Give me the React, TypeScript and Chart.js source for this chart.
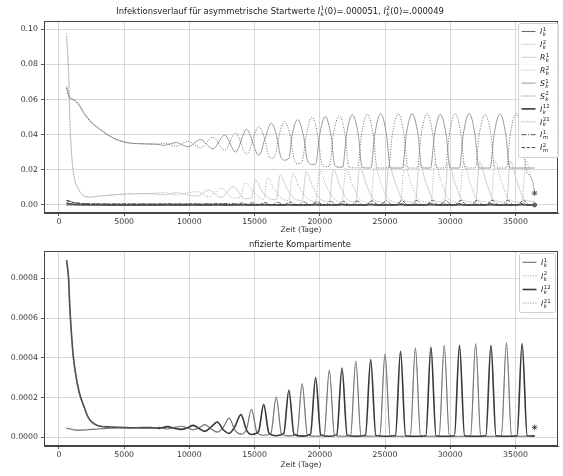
import { useEffect, useRef } from 'react';
import { Chart, registerables } from 'chart.js';

Chart.register(...registerables);

type P = [number, number];

const FONT = '"DejaVu Sans", sans-serif';

// ---------- ticks ----------
const xTicks = [0, 5000, 10000, 15000, 20000, 25000, 30000, 35000];
const yTicksTop = [0, 0.02, 0.04, 0.06, 0.08, 0.1];
const yTicksBottom = [0, 0.0002, 0.0004, 0.0006, 0.0008];

// ---------- series (time in days, value) ----------
const Ik12: P[] = [[585,892e-6],[740,800e-6],[840,650e-6],[970,514e-6],[1120,397e-6],[1300,312e-6],[1550,228e-6],[1930,153e-6],[2300,94e-6],[2950,60e-6],[3950,52e-6],[5000,49e-6],[6000,48e-6],[7000,49e-6],[7700,45e-6],[8300,54e-6],[8850,45e-6],[9400,40e-6],[9850,48e-6],[10300,60e-6],[10750,44e-6],[11200,30e-6],[11670,52e-6],[12140,77e-6],[12600,38e-6],[13050,20e-6],[13500,55e-6],[13950,114e-6],[14400,35e-6],[14760,14e-6],[15300,28e-6],[15700,166e-6],[16100,22e-6],[16660,8e-6],[17230,18e-6],[17630,237e-6],[18030,14e-6],[18650,6e-6],[19280,15e-6],[19680,301e-6],[20080,12e-6],[20730,5e-6],[21300,12e-6],[21700,349e-6],[22100,10e-6],[22760,5e-6],[23500,10e-6],[23900,391e-6],[24300,9e-6],[25000,5e-6],[25800,9e-6],[26190,433e-6],[26580,8e-6],[27330,5e-6],[28130,8e-6],[28520,455e-6],[28910,8e-6],[29540,5e-6],[30320,8e-6],[30710,463e-6],[31100,8e-6],[31950,5e-6],[32730,8e-6],[33120,463e-6],[33510,8e-6],[34310,5e-6],[35120,8e-6],[35510,472e-6],[35900,8e-6],[36470,6e-6]];

const Ik1: P[] = [[585,44e-6],[800,43e-6],[1300,36e-6],[2000,37e-6],[3000,42e-6],[4000,46e-6],[5000,47e-6],[6000,48e-6],[7000,46e-6],[7700,50e-6],[8300,42e-6],[8850,50e-6],[9400,56e-6],[9850,48e-6],[10300,38e-6],[10750,48e-6],[11200,64e-6],[11670,42e-6],[12140,26e-6],[12600,50e-6],[13050,97e-6],[13500,36e-6],[13950,16e-6],[14380,40e-6],[14760,141e-6],[15200,22e-6],[15700,10e-6],[16250,20e-6],[16660,203e-6],[17070,16e-6],[17630,7e-6],[18250,14e-6],[18650,270e-6],[19050,12e-6],[19680,5e-6],[20330,12e-6],[20730,338e-6],[21130,10e-6],[21700,5e-6],[22360,10e-6],[22760,384e-6],[23160,9e-6],[23900,5e-6],[24600,9e-6],[25000,420e-6],[25400,8e-6],[26190,5e-6],[26940,8e-6],[27330,450e-6],[27720,8e-6],[28520,5e-6],[29150,8e-6],[29540,463e-6],[29930,8e-6],[30710,5e-6],[31560,8e-6],[31950,472e-6],[32340,8e-6],[33120,5e-6],[33920,8e-6],[34310,477e-6],[34700,8e-6],[35510,5e-6],[36470,10e-6]];

const Ik2: P[] = [[585,49e-6],[800,46e-6],[1300,38e-6],[2000,38e-6],[3000,43e-6],[4000,46e-6],[5000,47e-6],[6000,47e-6],[7000,47e-6],[8300,52e-6],[9400,42e-6],[10300,57e-6],[11200,32e-6],[12140,74e-6],[12600,38e-6],[13050,20e-6],[13500,52e-6],[13950,110e-6],[14400,33e-6],[14760,14e-6],[15300,27e-6],[15700,160e-6],[16100,20e-6],[16660,8e-6],[17230,17e-6],[17630,230e-6],[18030,13e-6],[18650,6e-6],[19280,14e-6],[19680,295e-6],[20080,11e-6],[20730,5e-6],[21300,11e-6],[21700,343e-6],[22100,10e-6],[22760,5e-6],[23500,10e-6],[23900,385e-6],[24300,9e-6],[25000,5e-6],[25800,9e-6],[26190,428e-6],[26580,8e-6],[27330,5e-6],[28130,8e-6],[28520,450e-6],[28910,8e-6],[29540,5e-6],[30320,8e-6],[30710,458e-6],[31100,8e-6],[31950,5e-6],[32730,8e-6],[33120,458e-6],[33510,8e-6],[34310,5e-6],[35120,8e-6],[35510,467e-6],[35900,8e-6],[36470,6e-6]];

const Ik21: P[] = [[585,885e-6],[740,795e-6],[840,645e-6],[970,510e-6],[1120,393e-6],[1300,308e-6],[1550,225e-6],[1930,150e-6],[2300,92e-6],[2950,59e-6],[3950,51e-6],[5000,48e-6],[6000,48e-6],[7000,47e-6],[8300,43e-6],[9400,54e-6],[10300,39e-6],[11200,62e-6],[12140,27e-6],[12600,48e-6],[13050,94e-6],[13500,35e-6],[13950,16e-6],[14380,38e-6],[14760,137e-6],[15200,21e-6],[15700,10e-6],[16250,19e-6],[16660,198e-6],[17070,15e-6],[17630,7e-6],[18250,13e-6],[18650,265e-6],[19050,12e-6],[19680,5e-6],[20330,12e-6],[20730,333e-6],[21130,10e-6],[21700,5e-6],[22360,10e-6],[22760,379e-6],[23160,9e-6],[23900,5e-6],[24600,9e-6],[25000,415e-6],[25400,8e-6],[26190,5e-6],[26940,8e-6],[27330,445e-6],[27720,8e-6],[28520,5e-6],[29150,8e-6],[29540,458e-6],[29930,8e-6],[30710,5e-6],[31560,8e-6],[31950,467e-6],[32340,8e-6],[33120,5e-6],[33920,8e-6],[34310,472e-6],[34700,8e-6],[35510,5e-6],[36470,10e-6]];

const Sk1: P[] = [[585,0.0674],[785,0.0617],[1166,0.0599],[1550,0.0570],[1930,0.0523],[2440,0.0475],[3200,0.0428],[4200,0.0380],[5240,0.0355],[6500,0.0348],[7500,0.0346],[8000,0.0339],[9000,0.0355],[9900,0.0331],[10850,0.0372],[11800,0.0319],[12700,0.0398],[13550,0.0301],[14380,0.0430],[15340,0.0282],[15830,0.0385],[16280,0.0466],[16730,0.0380],[17000,0.0275],[17300,0.0255],[17650,0.0270],[17860,0.0390],[18310,0.0485],[18760,0.0390],[19060,0.0250],[19410,0.0230],[19700,0.0235],[19970,0.0390],[20420,0.0503],[20870,0.0390],[21150,0.0225],[21490,0.0215],[21750,0.0215],[22050,0.0400],[22500,0.0513],[22950,0.0400],[23250,0.0212],[23915,0.0210],[24215,0.0400],[24665,0.0519],[25115,0.0400],[25415,0.0210],[26330,0.0210],[26630,0.0400],[27080,0.0520],[27530,0.0400],[27830,0.0210],[28490,0.0210],[28790,0.0398],[29240,0.0515],[29690,0.0398],[29990,0.0210],[30700,0.0210],[31000,0.0400],[31450,0.0520],[31900,0.0400],[32200,0.0210],[33060,0.0210],[33360,0.0400],[33810,0.0518],[34260,0.0400],[34560,0.0210],[35800,0.0210],[36470,0.0210]];

const Sk2: P[] = [[585,0.0665],[785,0.0612],[1166,0.0596],[1550,0.0566],[1930,0.0520],[2440,0.0472],[3200,0.0426],[4200,0.0379],[5240,0.0354],[6500,0.0347],[7500,0.0345],[8000,0.0352],[9000,0.0335],[9900,0.0362],[10850,0.0325],[11800,0.0385],[12700,0.0310],[13550,0.0410],[14380,0.0290],[15340,0.0446],[15790,0.0370],[16050,0.0285],[16280,0.0265],[16600,0.0285],[16850,0.0385],[17300,0.0475],[17750,0.0385],[18030,0.0260],[18310,0.0235],[18650,0.0250],[18960,0.0395],[19410,0.0500],[19860,0.0390],[20150,0.0235],[20420,0.0218],[20740,0.0220],[21040,0.0398],[21490,0.0507],[21940,0.0398],[22240,0.0213],[22895,0.0211],[23195,0.0400],[23645,0.0517],[24095,0.0400],[24395,0.0210],[25260,0.0210],[25560,0.0400],[26010,0.0520],[26460,0.0400],[26760,0.0210],[27470,0.0210],[27770,0.0400],[28220,0.0520],[28670,0.0400],[28970,0.0210],[29630,0.0210],[29930,0.0400],[30380,0.0520],[30830,0.0400],[31130,0.0210],[31920,0.0210],[32220,0.0400],[32670,0.0515],[33120,0.0400],[33420,0.0210],[34300,0.0210],[34600,0.0400],[35050,0.0520],[35500,0.0400],[35800,0.0210],[36300,0.0140],[36470,0.0067]];

const Rk1: P[] = [[585,0.0960],[740,0.0760],[840,0.0480],[970,0.0292],[1166,0.0160],[1550,0.0084],[1930,0.0051],[2440,0.0045],[3200,0.0051],[5240,0.0062],[7000,0.0064],[8000,0.0058],[9000,0.0070],[10000,0.0055],[10600,0.0050],[11500,0.0085],[12440,0.0042],[13350,0.0105],[14250,0.0035],[14760,0.0040],[15060,0.0143],[15560,0.0080],[16160,0.0035],[16660,0.0030],[16960,0.0171],[17460,0.0095],[18060,0.0035],[18650,0.0025],[18950,0.0190],[19450,0.0105],[20050,0.0033],[20730,0.0020],[21030,0.0203],[21530,0.0112],[22130,0.0030],[22760,0.0017],[23060,0.0215],[23560,0.0118],[24160,0.0030],[25000,0.0015],[25300,0.0225],[25800,0.0123],[26400,0.0028],[27330,0.0015],[27630,0.0235],[28130,0.0128],[28730,0.0028],[29540,0.0015],[29840,0.0240],[30340,0.0130],[30940,0.0028],[31950,0.0015],[32250,0.0245],[32750,0.0133],[33350,0.0028],[34310,0.0015],[34610,0.0250],[35110,0.0136],[35710,0.0028],[36470,0.0020]];

const Rk2: P[] = [[585,0.0979],[740,0.0770],[840,0.0485],[970,0.0295],[1166,0.0161],[1550,0.0085],[1930,0.0051],[2440,0.0044],[3200,0.0051],[5240,0.0063],[7000,0.0065],[8000,0.0070],[9000,0.0057],[10000,0.0072],[10600,0.0075],[11500,0.0045],[12440,0.0095],[13350,0.0040],[13950,0.0045],[14250,0.0125],[14900,0.0075],[15500,0.0035],[15700,0.0032],[16000,0.0158],[16500,0.0090],[17100,0.0035],[17630,0.0025],[17930,0.0180],[18430,0.0100],[19050,0.0035],[19680,0.0020],[19980,0.0198],[20480,0.0110],[21100,0.0033],[21700,0.0018],[22000,0.0210],[22500,0.0115],[23100,0.0030],[23900,0.0015],[24200,0.0220],[24700,0.0120],[25300,0.0030],[26190,0.0015],[26490,0.0230],[26990,0.0125],[27600,0.0028],[28520,0.0015],[28820,0.0238],[29320,0.0130],[29920,0.0028],[30710,0.0015],[31010,0.0242],[31510,0.0132],[32100,0.0028],[33120,0.0015],[33420,0.0248],[33920,0.0135],[34520,0.0028],[35510,0.0015],[35810,0.0255],[36200,0.0150],[36470,0.0080]];

const Im1: P[] = [[585,2600e-6],[800,2200e-6],[1100,1500e-6],[1500,1000e-6],[2000,700e-6],[3000,550e-6],[5000,500e-6],[7000,500e-6],[9400,560e-6],[10300,400e-6],[11200,650e-6],[12140,300e-6],[13050,900e-6],[13950,200e-6],[14400,300e-6],[14850,1200e-6],[15300,200e-6],[16300,150e-6],[16750,1500e-6],[17200,150e-6],[18300,150e-6],[18750,1800e-6],[19200,130e-6],[20400,130e-6],[20830,2000e-6],[21300,120e-6],[22400,120e-6],[22860,2200e-6],[23300,120e-6],[24650,120e-6],[25100,2400e-6],[25550,120e-6],[26980,120e-6],[27430,2500e-6],[27880,120e-6],[29190,120e-6],[29640,2550e-6],[30090,120e-6],[31600,120e-6],[32050,2600e-6],[32500,120e-6],[33960,120e-6],[34410,2600e-6],[34860,120e-6],[36470,150e-6]];

const Im2: P[] = [[585,2400e-6],[800,2050e-6],[1100,1400e-6],[1500,950e-6],[2000,680e-6],[3000,540e-6],[5000,500e-6],[7000,500e-6],[8300,560e-6],[9400,420e-6],[10300,620e-6],[11200,320e-6],[12140,750e-6],[13050,220e-6],[13500,300e-6],[14050,1050e-6],[14500,200e-6],[15350,150e-6],[15800,1350e-6],[16250,150e-6],[17280,150e-6],[17730,1650e-6],[18180,140e-6],[19330,130e-6],[19780,1900e-6],[20230,130e-6],[21350,120e-6],[21800,2100e-6],[22250,120e-6],[23550,120e-6],[24000,2300e-6],[24450,120e-6],[25840,120e-6],[26290,2450e-6],[26740,120e-6],[28170,120e-6],[28620,2500e-6],[29070,120e-6],[30360,120e-6],[30810,2550e-6],[31260,120e-6],[32770,120e-6],[33220,2600e-6],[33670,120e-6],[35160,120e-6],[35610,2600e-6],[36060,120e-6],[36470,150e-6]];

const endStarTop: P[] = [[36470, 0.0067]];
const endDotTop: P[] = [[36470, 0]];
const endStarBottom: P[] = [[36470, 0.00005]];

// ---------- styles ----------
type Style = { color: string; width: number; dash: number[]; label: [string, string, string] };
const DOT = [1, 1.6];
const sIk1: Style = { color: '#6a6a6a', width: 1.1, dash: [], label: ['I', 'k', '1'] };
const sIk2: Style = { color: '#9a9a9a', width: 1, dash: DOT, label: ['I', 'k', '2'] };
const sRk1: Style = { color: '#cdcdcd', width: 1, dash: [], label: ['R', 'k', '1'] };
const sRk2: Style = { color: '#a6a6a6', width: 1, dash: DOT, label: ['R', 'k', '2'] };
const sSk1: Style = { color: '#999999', width: 1, dash: [], label: ['S', 'k', '1'] };
const sSk2: Style = { color: '#6a6a6a', width: 1, dash: DOT, label: ['S', 'k', '2'] };
const sIk12: Style = { color: '#3a3a3a', width: 1.6, dash: [], label: ['I', 'k', '12'] };
const sIk21: Style = { color: '#8a8a8a', width: 1, dash: DOT, label: ['I', 'k', '21'] };
const sIm1: Style = { color: '#555555', width: 1, dash: [5, 1.6, 1, 1.6], label: ['I', 'm', '1'] };
const sIm2: Style = { color: '#444444', width: 1, dash: [3.5, 1.6], label: ['I', 'm', '2'] };

function mathWidth(ctx: CanvasRenderingContext2D, size: number, l: [string, string, string]) {
  ctx.font = `italic ${size}px ${FONT}`;
  const wb = ctx.measureText(l[0]).width;
  ctx.font = `italic ${size * 0.7}px ${FONT}`;
  const ws = ctx.measureText(l[1]).width;
  ctx.font = `${size * 0.7}px ${FONT}`;
  const wp = ctx.measureText(l[2]).width;
  return wb + Math.max(ws, wp) + size * 0.08;
}
function drawMath(ctx: CanvasRenderingContext2D, x: number, y: number, size: number, l: [string, string, string]) {
  ctx.textAlign = 'left';
  ctx.textBaseline = 'alphabetic';
  ctx.font = `italic ${size}px ${FONT}`;
  ctx.fillText(l[0], x, y);
  const wb = ctx.measureText(l[0]).width + size * 0.05;
  ctx.font = `italic ${size * 0.7}px ${FONT}`;
  ctx.fillText(l[1], x + wb, y + size * 0.25);
  ctx.font = `${size * 0.7}px ${FONT}`;
  ctx.fillText(l[2], x + wb, y - size * 0.42);
  return mathWidth(ctx, size, l);
}

type Seg = string | [string, string, string];
function drawRich(ctx: CanvasRenderingContext2D, segs: Seg[], cx: number, cy: number, size: number) {
  let total = 0;
  for (const s of segs) {
    if (typeof s === 'string') { ctx.font = `${size}px ${FONT}`; total += ctx.measureText(s).width; }
    else total += mathWidth(ctx, size, s);
  }
  let x = cx - total / 2;
  const y = cy + size * 0.36;
  ctx.fillStyle = '#222';
  for (const s of segs) {
    if (typeof s === 'string') {
      ctx.font = `${size}px ${FONT}`;
      ctx.textAlign = 'left'; ctx.textBaseline = 'alphabetic';
      ctx.fillText(s, x, y);
      x += ctx.measureText(s).width;
    } else {
      x += drawMath(ctx, x, y, size, s);
    }
  }
}

type LegendBox = { x: number; y: number; w: number; h: number; y0: number; dy: number; lx0: number; lx1: number; tx: number };

function makePlugins(title: Seg[], titleX: number, titleY: number, legendItems: Style[], box: LegendBox) {
  return [{
    id: 'frameTitleLegend',
    afterDatasetsDraw(chart: any) {
      const { ctx, chartArea: a } = chart;
      ctx.save();
      ctx.strokeStyle = '#444';
      ctx.lineWidth = 1;
      ctx.setLineDash([]);
      ctx.strokeRect(Math.round(a.left) + 0.5, Math.round(a.top) + 0.5, Math.round(a.right - a.left) - 1, Math.round(a.bottom - a.top) - 1);
      ctx.restore();
    },
    afterDraw(chart: any) {
      const ctx: CanvasRenderingContext2D = chart.ctx;
      ctx.save();
      drawRich(ctx, title, titleX, titleY, 8.4);
      ctx.fillStyle = 'rgba(255,255,255,0.85)';
      ctx.strokeStyle = '#d0d0d0';
      ctx.lineWidth = 1;
      ctx.beginPath();
      (ctx as any).roundRect(box.x + 0.5, box.y + 0.5, box.w, box.h, 2);
      ctx.fill();
      ctx.stroke();
      legendItems.forEach((it, i) => {
        const y = box.y0 + i * box.dy;
        ctx.strokeStyle = it.color;
        ctx.lineWidth = it.width;
        ctx.setLineDash(it.dash);
        ctx.beginPath();
        ctx.moveTo(box.lx0, y);
        ctx.lineTo(box.lx1, y);
        ctx.stroke();
        ctx.setLineDash([]);
        ctx.fillStyle = '#222';
        drawMath(ctx, box.tx, y + 2.7, 7.8, it.label);
      });
      ctx.restore();
    },
  }];
}

function ds(data: P[], s: Style) {
  return {
    data: data.map(([x, y]) => ({ x, y })),
    borderColor: s.color,
    borderWidth: s.width,
    borderDash: s.dash,
    pointRadius: 0,
    fill: false,
    cubicInterpolationMode: 'monotone' as const,
  };
}

function markers(data: P[], style: string, r: number) {
  return {
    type: 'scatter' as const,
    data: data.map(([x, y]) => ({ x, y })),
    showLine: false,
    pointStyle: style,
    pointRadius: r,
    borderColor: '#555',
    backgroundColor: '#666',
    borderWidth: 1,
  };
}

function xScale(height: number, titlePad: number) {
  return {
    type: 'linear' as const,
    min: -1143,
    max: 38262,
    afterBuildTicks: (s: any) => { s.ticks = xTicks.map((v) => ({ value: v })); },
    afterFit: (s: any) => { s.height = height; },
    ticks: { callback: (v: any) => String(v), font: { family: FONT, size: 7.8 }, color: '#333', padding: 1, maxRotation: 0, autoSkip: false },
    grid: { color: '#d4d4d4', lineWidth: 0.9, tickLength: 3, tickColor: '#444' },
    border: { color: '#444' },
    title: { display: true, text: 'Zeit (Tage)', font: { family: FONT, size: 7.6 }, color: '#333', padding: { top: 0, bottom: titlePad } },
  };
}
function yScale(min: number, max: number, ticks: number[], digits: number) {
  return {
    type: 'linear' as const,
    min,
    max,
    afterBuildTicks: (s: any) => { s.ticks = ticks.map((v) => ({ value: v })); },
    afterFit: (s: any) => { s.width = 44; },
    ticks: { callback: (v: any) => Number(v).toFixed(digits), font: { family: FONT, size: 7.8 }, color: '#333', padding: 3, autoSkip: false },
    grid: { color: '#d4d4d4', lineWidth: 0.9, tickLength: 3, tickColor: '#444' },
    border: { color: '#444' },
  };
}

export default function App() {
  const topRef = useRef<HTMLCanvasElement>(null);
  const botRef = useRef<HTMLCanvasElement>(null);

  useEffect(() => {
    document.body.style.margin = '0';
    const topItems = [sIk1, sIk2, sRk1, sRk2, sSk1, sSk2, sIk12, sIk21, sIm1, sIm2];
    const topData = [
      ds(Ik1, sIk1), ds(Ik2, sIk2), ds(Rk1, sRk1), ds(Rk2, sRk2), ds(Sk1, sSk1), ds(Sk2, sSk2),
      ds(Ik12, sIk12), ds(Ik21, sIk21), ds(Im1, sIm1), ds(Im2, sIm2),
    ].reverse();
    const c1 = new Chart(topRef.current!, {
      type: 'line',
      data: { datasets: [markers(endStarTop, 'star', 2.8), markers(endDotTop, 'circle', 2), ...topData] as any },
      options: {
        responsive: false,
        animation: false,
        layout: { padding: { top: 21, right: 3, left: 0, bottom: 0 } },
        plugins: { legend: { display: false }, title: { display: false }, tooltip: { enabled: false } },
        scales: { x: xScale(25, 3) as any, y: yScale(-0.0046, 0.1047, yTicksTop, 2) as any },
      },
      plugins: makePlugins(
        ['Infektionsverlauf für asymmetrische Startwerte ', ['I', 'k', '1'], '(0)=.000051, ', ['I', 'k', '2'], '(0)=.000049'],
        280, 10.5, topItems,
        { x: 518, y: 23, w: 40, h: 134, y0: 31.5, dy: 12.9, lx0: 521.5, lx1: 535.5, tx: 540 },
      ) as any,
    });

    const botItems = [sIk1, sIk2, sIk12, sIk21];
    const botData = [ds(Ik1, sIk1), ds(Ik2, sIk2), ds(Ik12, sIk12), ds(Ik21, sIk21)].reverse();
    const c2 = new Chart(botRef.current!, {
      type: 'line',
      data: { datasets: [markers(endStarBottom, 'star', 2.8), ...botData] as any },
      options: {
        responsive: false,
        animation: false,
        layout: { padding: { top: 13, right: 3, left: 0, bottom: 0 } },
        plugins: { legend: { display: false }, title: { display: false }, tooltip: { enabled: false } },
        scales: { x: xScale(30, 6) as any, y: yScale(-0.0000438, 0.000938, yTicksBottom, 4) as any },
      },
      plugins: makePlugins(
        ['nfizierte Kompartimente'],
        300, 5.5, botItems,
        { x: 519, y: 15, w: 36, h: 59, y0: 24.3, dy: 13.6, lx0: 522.5, lx1: 536.5, tx: 541 },
      ) as any,
    });
    return () => { c1.destroy(); c2.destroy(); };
  }, []);

  return (
    <div style={{ position: 'relative', width: 563, height: 476, background: '#fff' }}>
      <canvas ref={topRef} width={563} height={238} style={{ position: 'absolute', left: 0, top: 0, display: 'block' }} />
      <canvas ref={botRef} width={563} height={238} style={{ position: 'absolute', left: 0, top: 238, display: 'block' }} />
    </div>
  );
}
